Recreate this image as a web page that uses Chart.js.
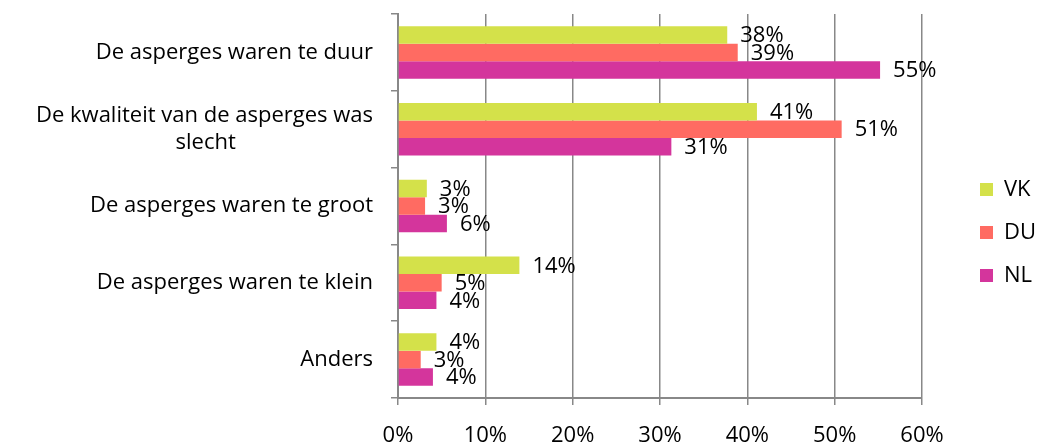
<!DOCTYPE html>
<html>
<head>
<meta charset="utf-8">
<script src="https://cdn.jsdelivr.net/npm/chart.js@4"></script>
<style>
  html, body { margin: 0; padding: 0; background: #fff; }
  #wrap { width: 1038px; height: 445px; }
</style>
</head>
<body>
<div id="wrap"><canvas id="chart"></canvas></div>
<script>
// Data (percent)
const categories = [
    ['De asperges waren te duur'],
    ['De kwaliteit van de asperges was', 'slecht'],
    ['De asperges waren te groot'],
    ['De asperges waren te klein'],
    ['Anders']
];
const seriesNames = ['VK', 'DU', 'NL'];
const vkValues = [37.7, 41.1, 3.3, 13.9, 4.4];
const duValues = [38.9, 50.8, 3.1, 5.0, 2.6];
const nlValues = [55.2, 31.3, 5.6, 4.4, 4.0];
const xTicks = [0, 10, 20, 30, 40, 50, 60];

const colors = ['#d4e14a', '#ff6b62', '#d4359c'];
const FONT = 'Open Sans';
const SIZE = 22;
const gridColor = '#888888';

// centre the lines of a multi-line label against each other (right aligned block)
function centerLines(lines) {
    if (lines.length < 2) return lines;
    const ctx = document.createElement('canvas').getContext('2d');
    ctx.font = SIZE + 'px "' + FONT + '"';
    const w = lines.map(l => ctx.measureText(l).width);
    const max = Math.max(...w);
    const sp = ctx.measureText(' ').width;
    return lines.map((l, i) => l + ' '.repeat(Math.round((max - w[i]) / 2 / sp)));
}

// value labels at the end of each bar
const valueLabels = {
    id: 'valueLabels',
    afterDatasetsDraw(chart) {
        const ctx = chart.ctx;
        ctx.save();
        ctx.font = SIZE + 'px "' + FONT + '"';
        ctx.fillStyle = '#000';
        ctx.textAlign = 'left';
        ctx.textBaseline = 'middle';
        chart.data.datasets.forEach((ds, i) => {
            chart.getDatasetMeta(i).data.forEach((bar, j) => {
                ctx.fillText(Math.round(ds.data[j]) + '%', bar.x + 13, bar.y + 1);
            });
        });
        ctx.restore();
    }
};

// push the legend to the right edge like the original
const legendPlace = {
    id: 'legendPlace',
    afterInit(chart) {
        const fit = chart.legend.fit;
        chart.legend.fit = function () {
            fit.call(this);
            this.width = 116;
        };
    },
    afterLayout(chart) {
        const l = chart.legend;
        l.left += 37; l.right += 37;
        l.top += 3; l.bottom += 3;
    }
};

new Chart(document.getElementById('chart'), {
    type: 'bar',
    data: {
        labels: categories.map(centerLines),
        datasets: seriesNames.map((name, i) => ({
            label: name,
            data: [vkValues, duValues, nlValues][i],
            backgroundColor: colors[i],
            borderWidth: 0,
            categoryPercentage: 0.684,
            barPercentage: 1
        }))
    },
    options: {
        indexAxis: 'y',
        responsive: true,
        maintainAspectRatio: false,
        animation: false,
        layout: { padding: { top: 14, left: 0, right: 0, bottom: 0 } },
        scales: {
            x: {
                min: 0,
                max: 60,
                afterBuildTicks(scale) {
                    scale.ticks = xTicks.map(v => ({ value: v }));
                },
                afterFit(scale) { scale.height = 47; },
                grid: { color: gridColor, lineWidth: 1.5, tickLength: 7 },
                border: { color: gridColor, width: 2 },
                ticks: {
                    padding: 20,
                    color: '#000',
                    font: { family: FONT, size: SIZE, lineHeight: 1 },
                    callback: v => v + '%'
                }
            },
            y: {
                offset: true,
                afterFit(scale) {
                    scale.width = 398;
                    scale.paddingTop = 0;
                    scale.paddingBottom = 0;
                },
                grid: { offset: true, drawOnChartArea: false, color: gridColor, lineWidth: 1.5, tickLength: 7 },
                border: { color: gridColor, width: 2 },
                ticks: {
                    padding: 18,
                    color: '#000',
                    font: { family: FONT, size: SIZE, lineHeight: 1.2 }
                }
            }
        },
        plugins: {
            legend: {
                position: 'right',
                labels: {
                    boxWidth: 13,
                    boxHeight: 13,
                    padding: 21,
                    color: '#000',
                    font: { family: FONT, size: SIZE }
                }
            },
            tooltip: { enabled: false }
        }
    },
    plugins: [valueLabels, legendPlace]
});
</script>
</body>
</html>
